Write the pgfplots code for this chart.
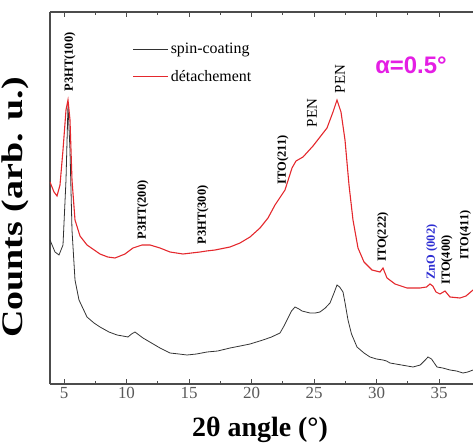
\documentclass[border=0pt]{standalone}
\usepackage{pgfplots}
\pgfplotsset{compat=1.18}
\usepackage{fontspec}
\setmainfont{Liberation Serif}
\newfontfamily\sansf{Liberation Sans}
\definecolor{myred}{RGB}{228,40,45}
\definecolor{mygray}{RGB}{50,50,50}
\definecolor{mymag}{RGB}{228,30,228}
\definecolor{myblue}{RGB}{45,45,210}
\begin{document}
\begin{tikzpicture}
\begin{axis}[
  scale only axis, width=423bp, height=372bp,
  xmin=3.88, xmax=37.72, ymin=0, ymax=372,
  axis x line*=box, axis y line*=left,
  ytick=\empty,
  xtick={5,10,...,35}, minor x tick num=1,
  tick align=inside,
  major tick length=5bp, minor tick length=3bp,
  axis line style={line width=1.1bp, black!70},
  every tick/.style={black!70, line width=0.9bp},
  /pgf/number format/assume math mode=true,
  xticklabel style={font=\fontsize{17}{17}\selectfont, text=black!65},
  xlabel={2θ angle (°)},
  xlabel style={font=\bfseries\fontsize{28}{28}\selectfont, at={(axis description cs:0.4965,-0.1237)}, anchor=center},
  ylabel={\scalebox{1.27}[1]{Counts (arb. u.)}},
  ylabel style={font=\bfseries\fontsize{30}{30}\selectfont, at={(axis description cs:-0.0827,0.4745)}, anchor=center, rotate=0},
  legend style={at={(rel axis cs:0.195,0.922)}, anchor=north west, draw=none, fill=none,
    font=\fontsize{16}{16}\selectfont, row sep=11bp, inner sep=0pt},
  legend cell align=left,
  legend image code/.code={\draw[#1] (0bp,0bp) -- (35bp,0bp);},
  clip mode=individual,
]
\addplot[mygray, line width=0.8bp] coordinates {
(3.88,144) (4.28,132) (4.6,129) (4.92,139) (5.16,204) (5.32,279) (5.48,234) (5.64,154)
(5.88,104) (6.2,84) (6.84,67) (7.4,61) (7.88,57) (8.6,52) (9.24,49) (9.7,48) (10.12,47) (10.4,50) (10.68,52)
(11.0,49) (11.32,46) (12.0,41) (12.68,36) (13.48,31) (14.2,30) (14.84,29) (15.6,30) (16.44,32) (17.3,33)
(18.28,36) (19.1,38) (19.88,40) (20.92,44) (21.6,47) (22.28,51) (22.6,58) (22.92,66) (23.2,73) (23.48,77)
(23.8,75) (24.04,73) (24.68,71) (25.1,71) (25.48,72) (25.9,76) (26.28,81) (26.6,91) (26.84,99) (27.05,97)
(27.32,92) (27.5,80) (27.72,64) (28.0,50) (28.44,37) (29.0,31) (29.48,27) (30.0,25) (30.52,24) (30.8,23)
(31.08,21) (32.0,19) (32.92,17) (33.5,19) (33.9,24) (34.12,27) (34.4,25) (34.84,17) (35.3,16)
(35.88,14) (36.4,13) (36.92,11) (37.3,12) (37.72,14)
};
\addlegendentry{spin-coating}
\addplot[myred, line width=1.1bp] coordinates {
(3.88,202) (4.2,192) (4.44,188) (4.68,199) (4.92,234) (5.16,274) (5.32,284) (5.48,264) (5.64,204)
(5.88,164) (6.28,148) (6.84,139) (7.88,130) (8.5,127) (9.08,126) (9.88,130) (10.52,136) (11.24,139)
(11.88,139) (12.68,136) (13.48,132) (14.52,130) (15.2,131) (15.88,132) (16.4,133) (17.08,134) (18.28,137)
(19.08,141) (19.88,147) (20.68,156) (21.32,166) (21.88,179) (22.68,194) (23.24,216) (23.56,223)
(24.12,227) (24.92,238) (25.48,247) (26.04,256) (26.52,272) (26.84,284) (27.16,272) (27.48,244)
(27.8,199) (28.12,164) (28.52,136) (29.0,122) (29.64,114) (30.28,112) (30.52,116) (30.84,106)
(31.48,100) (32.44,96) (33.48,96) (34.0,97) (34.28,100) (34.5,98) (34.76,92) (35.08,90) (35.48,93)
(35.88,87) (36.68,86) (37.16,88) (37.72,94)
};
\addlegendentry{détachement}
\begin{scope}[every node/.style={rotate=90, anchor=center, font=\bfseries\fontsize{12.5}{12.5}\selectfont}]
\node at (axis cs:5.48,322) {P3HT(100)};
\node at (axis cs:11.32,174) {P3HT(200)};
\node at (axis cs:16.12,169) {P3HT(300)};
\node at (axis cs:22.52,224) {ITO(211)};
\node at (axis cs:30.52,147) {ITO(222)};
\node[text=myblue] at (axis cs:34.44,132) {ZnO (002)};
\node at (axis cs:35.64,124) {ITO(400)};
\node at (axis cs:37.12,149) {ITO(411)};
\node[font=\fontsize{15}{15}\selectfont] at (axis cs:24.84,271) {PEN};
\node[font=\fontsize{15}{15}\selectfont] at (axis cs:27.08,305) {PEN};
\end{scope}
\node[font=\sansf\bfseries\fontsize{24}{24}\selectfont, text=mymag] at (axis cs:32.76,319) {α=0.5°};
\coordinate (SW) at (rel axis cs:0,0);
\coordinate (NE) at (rel axis cs:1,1);
\end{axis}
\pgfresetboundingbox
\path[use as bounding box] ([shift={(-50bp,-62bp)}]SW) rectangle ([shift={(0bp,12bp)}]NE);
\end{tikzpicture}
\end{document}
